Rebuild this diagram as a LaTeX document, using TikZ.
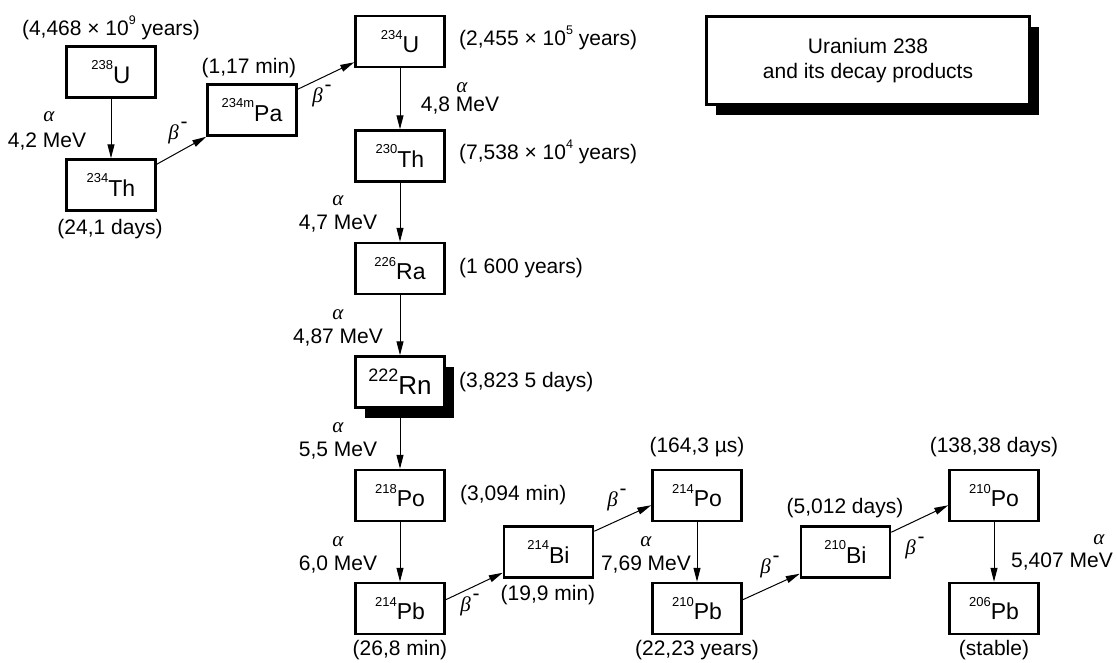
\documentclass[tikz,border=0pt]{standalone}
\usepackage{fontspec}
\setmainfont{Liberation Sans}
\newfontfamily\grk{Liberation Serif}
\usetikzlibrary{arrows.meta,shadows}
\newcommand{\nuc}[2]{\raisebox{0.58em}{\fontsize{13}{13}\selectfont #1}#2}
\newcommand{\alp}{{\grk\itshape α}}
\newcommand{\betam}{{\grk\itshape β}\kern2pt\raisebox{0.48em}{-}}
\newcommand{\tensup}[1]{10\raisebox{0.55em}{\fontsize{12.5}{12.5}\selectfont #1}}
\tikzset{
  iso/.style={draw, line width=2.5pt, minimum width=89pt, minimum height=51pt,
    inner sep=0pt, fill=white, font=\fontsize{23}{25}\selectfont},
  lab/.style={inner sep=0pt, font=\fontsize{21}{25}\selectfont},
  arr/.style={line width=1pt, -{Triangle[length=14pt,width=7pt]}},
  shad/.style={drop shadow={shadow xshift=9pt, shadow yshift=-10pt, fill=black, opacity=1}}
}
\begin{document}
\begin{tikzpicture}[x=1pt,y=-1pt]
\useasboundingbox (0,0) rectangle (1117,662);
% title
\node[draw, line width=2.5pt, minimum width=323pt, minimum height=88pt, fill=white,
  shad, align=center, font=\fontsize{21}{25}\selectfont] (title) at (868,60.5)
  {Uranium 238\\and its decay products};
% isotope boxes
\node[iso] (U238) at (111,72) {\fontsize{24}{25}\selectfont\nuc{238}{U}};
\node[iso] (Th234) at (111,185) {\nuc{234}{Th}};
\node[iso] (Pa234) at (252,110) {\nuc{234m}{Pa}};
\node[iso] (U234) at (400,41.5) {\nuc{234}{U}};
\node[iso] (Th230) at (400,156) {\nuc{230}{Th}};
\node[iso] (Ra226) at (400,268.5) {\nuc{226}{Ra}};
\node[iso, shad] (Rn222) at (400,382) {\fontsize{26}{26}\selectfont\raisebox{0.5em}{\fontsize{18}{18}\selectfont 222}Rn};
\node[iso] (Po218) at (400,495.5) {\nuc{218}{Po}};
\node[iso] (Pb214) at (400,608.5) {\nuc{214}{Pb}};
\node[iso] (Bi214) at (548.5,552) {\nuc{214}{Bi}};
\node[iso] (Po214) at (697,495.5) {\nuc{214}{Po}};
\node[iso] (Pb210) at (697,608.5) {\nuc{210}{Pb}};
\node[iso] (Bi210) at (845.5,552) {\nuc{210}{Bi}};
\node[iso] (Po210) at (994,495.5) {\nuc{210}{Po}};
\node[iso] (Pb206) at (994,608.5) {\nuc{206}{Pb}};
% half-lives
\node[lab] (tU238) at (111,28) {(4,468 × \tensup{9} years)};
\node[lab] (tPa234) at (249,68) {(1,17 min)};
\node[lab] (tTh234) at (110,229) {(24,1 days)};
\node[lab, anchor=west] (tU234) at (459,38) {(2,455 × \tensup{5} years)};
\node[lab, anchor=west] (tTh230) at (459,152) {(7,538 × \tensup{4} years)};
\node[lab, anchor=west] (tRa226) at (459,268) {(1 600 years)};
\node[lab, anchor=west] (tRn222) at (459,382) {(3,823 5 days)};
\node[lab, anchor=west] (tPo218) at (460,495) {(3,094 min)};
\node[lab] (tPb214) at (400,650) {(26,8 min)};
\node[lab] (tBi214) at (548,595) {(19,9 min)};
\node[lab] (tPo214) at (697,447) {(164,3 µs)};
\node[lab] (tPb210) at (697,650) {(22,23 years)};
\node[lab] (tBi210) at (845,508) {(5,012 days)};
\node[lab] (tPo210) at (994,447) {(138,38 days)};
\node[lab] (tPb206) at (994,650) {(stable)};
% alpha labels
\node[lab] (a1) at (49,117) {\alp};   \node[lab] (e1) at (47,142) {4,2 MeV};
\node[lab] (a2) at (462,88) {\alp};   \node[lab] (e2) at (460,106) {4,8 MeV};
\node[lab] (a3) at (338,201) {\alp};  \node[lab] (e3) at (338,224) {4,7 MeV};
\node[lab] (a4) at (338,315) {\alp};  \node[lab] (e4) at (338,338) {4,87 MeV};
\node[lab] (a5) at (338,428) {\alp};  \node[lab] (e5) at (338,451) {5,5 MeV};
\node[lab] (a6) at (338,542) {\alp};  \node[lab] (e6) at (338,565) {6,0 MeV};
\node[lab] (a7) at (646,542) {\alp};  \node[lab] (e7) at (646,565) {7,69 MeV};
\node[lab] (a8) at (1099,540) {\alp}; \node[lab] (e8) at (1062,562) {5,407 MeV};
% beta labels
\node[lab] (b1) at (178,133) {\betam};
\node[lab] (b2) at (322,96) {\betam};
\node[lab] (b3) at (470,605) {\betam};
\node[lab] (b4) at (617,500) {\betam};
\node[lab] (b5) at (770,567) {\betam};
\node[lab] (b6) at (915,548) {\betam};
% connectors
\draw[arr] (U238) -- (Th234);
\draw[arr] ([yshift=-6pt]Th234.north east) -- (Pa234.south west);
\draw[arr] ([yshift=-6pt]Pa234.north east) -- ([yshift=6pt]U234.south west);
\draw[arr] (U234) -- (Th230);
\draw[arr] (Th230) -- (Ra226);
\draw[arr] (Ra226) -- (Rn222);
\draw[arr] (Rn222) -- (Po218);
\draw[arr] (Po218) -- (Pb214);
\draw[arr] ([yshift=-18pt]Pb214.north east) -- ([yshift=6pt]Bi214.south west);
\draw[arr] ([yshift=-6pt]Bi214.north east) -- ([yshift=17pt]Po214.south west);
\draw[arr] (Po214) -- (Pb210);
\draw[arr] ([yshift=-18pt]Pb210.north east) -- ([yshift=5pt]Bi210.south west);
\draw[arr] ([yshift=-7pt]Bi210.north east) -- ([yshift=17pt]Po210.south west);
\draw[arr] (Po210) -- (Pb206);
\end{tikzpicture}
\end{document}
